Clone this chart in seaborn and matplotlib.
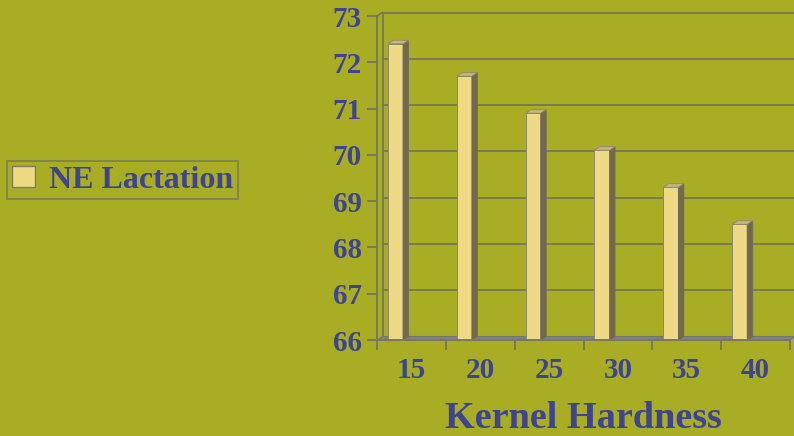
import matplotlib
matplotlib.use("Agg")
import matplotlib.pyplot as plt
import seaborn as sns
import pandas as pd
from matplotlib.patches import Polygon, Patch
from matplotlib.transforms import ScaledTranslation

# Data
hardness = ["15", "20", "25", "30", "35", "40"]
ne_lactation = [72.4, 71.7, 70.9, 70.1, 69.3, 68.5]
y_ticks = [66, 67, 68, 69, 70, 71, 72, 73]
series_name = "NE Lactation"
x_title = "Kernel Hardness"

# Colours
BG = "#A9AD23"
FACE = "#EED984"
SIDE = "#736947"
TOP = "#C6B77B"
GRID = "#76775A"
FLOOR = "#7C7E9E"
TEXT = "#3D4592"

sns.set_theme(style="white")
plt.rcParams["font.family"] = ["Liberation Serif", "DejaVu Serif"]
plt.rcParams["font.weight"] = "bold"

W, H, DPI = 794, 436, 100
fig = plt.figure(figsize=(W / DPI, H / DPI), dpi=DPI, facecolor=BG)
ax = fig.add_axes([377 / W, (H - 340) / H, (790 - 377) / W, (340 - 16) / H])
ax.set_facecolor("none")

df = pd.DataFrame({x_title: hardness, series_name: ne_lactation})
sns.barplot(data=df, x=x_title, y=series_name, color=FACE, saturation=1,
            width=0.22, edgecolor="#8C8670", linewidth=0.7, ax=ax, zorder=3)
bars = list(ax.patches)

x0, x1 = -0.268, 5.732
ymin, ymax = 66, 73
ax.set_xlim(x0, x1)
ax.set_ylim(ymin, ymax)

# depth of the 3-D effect in pixels, converted to data units
dpx, dpy = 5.5, 3.5
dx = dpx * (x1 - x0) / (790 - 377)
dy = dpy * (ymax - ymin) / (340 - 16)
back = ax.transData + ScaledTranslation(dpx / DPI, dpy / DPI, fig.dpi_scale_trans)

# back wall gridlines and edge
ax.hlines(y_ticks, x0, x1 + 0.1, transform=back, color=GRID, lw=1.3,
          clip_on=False, zorder=1)
ax.plot([x0, x0], [ymin, ymax], transform=back, color=GRID, lw=1.3,
        clip_on=False, zorder=1)
ax.plot([x0, x0 + dx], [ymax, ymax + dy], color=GRID, lw=1.3,
        clip_on=False, zorder=1)

# floor
ax.add_patch(Polygon([(x0, ymin), (x1, ymin), (x1 + dx, ymin + dy), (x0 + dx, ymin + dy)],
                     closed=True, facecolor=FLOOR, edgecolor=GRID, lw=0.8,
                     clip_on=False, zorder=2))

# side and top faces of each bar
for p in bars:
    bx, bw, top = p.get_x(), p.get_width(), p.get_height()
    side = Polygon([(bx + bw, ymin), (bx + bw, top), (bx + bw + dx, top + dy),
                    (bx + bw + dx, ymin + dy)], closed=True, facecolor=SIDE,
                   edgecolor="#6E6A6A", lw=0.6, zorder=3)
    lid = Polygon([(bx, top), (bx + bw, top), (bx + bw + dx, top + dy),
                   (bx + dx, top + dy)], closed=True, facecolor=TOP,
                  edgecolor="#8C8670", lw=0.6, zorder=3)
    ax.add_patch(side)
    ax.add_patch(lid)

# axes styling
for s in ["top", "right"]:
    ax.spines[s].set_visible(False)
for s in ["left", "bottom"]:
    ax.spines[s].set_color(GRID)
    ax.spines[s].set_linewidth(1.3)
    ax.spines[s].set_zorder(4)

ax.set_yticks(y_ticks)
ax.set_yticklabels([str(v) for v in y_ticks])
ax.tick_params(axis="y", length=7, width=1.3, color=GRID, direction="out",
               left=True, pad=4, labelsize=21, labelcolor=TEXT)

centers = [x0 + 0.5 + i for i in range(len(hardness))]
ax.set_xticks(centers)
ax.set_xticklabels(hardness)
ax.set_xticks([x0 + i for i in range(len(hardness) + 1)], minor=True)
ax.tick_params(axis="x", which="major", length=0, pad=12, labelsize=21,
               labelcolor=TEXT)
ax.tick_params(axis="x", which="minor", length=7, width=1.3, color=GRID,
               direction="out", bottom=True)
for t in ax.get_xticklabels() + ax.get_yticklabels():
    t.set_fontweight("bold")

ax.set_ylabel("")
ax.set_xlabel(x_title, fontsize=27.5, fontweight="bold", color=TEXT)
ax.xaxis.label.set_verticalalignment("baseline")
ax.xaxis.set_label_coords(0.5, (340 - 428) / (340 - 16))

# legend
leg = fig.legend(handles=[Patch(facecolor=FACE, edgecolor="#7D7A6E", lw=1.0, label=series_name)],
                 loc="center left", bbox_to_anchor=(7 / W, 1 - 180 / H),
                 frameon=True, fancybox=False, fontsize=23,
                 handlelength=0.72, handleheight=0.62, handletextpad=0.45,
                 borderpad=0.15, borderaxespad=0)
leg.get_frame().set_facecolor("none")
leg.get_frame().set_edgecolor(GRID)
leg.get_frame().set_linewidth(1.3)
for t in leg.get_texts():
    t.set_color(TEXT)
    t.set_fontweight("bold")

fig.savefig("out.png", dpi=DPI, facecolor=BG)
